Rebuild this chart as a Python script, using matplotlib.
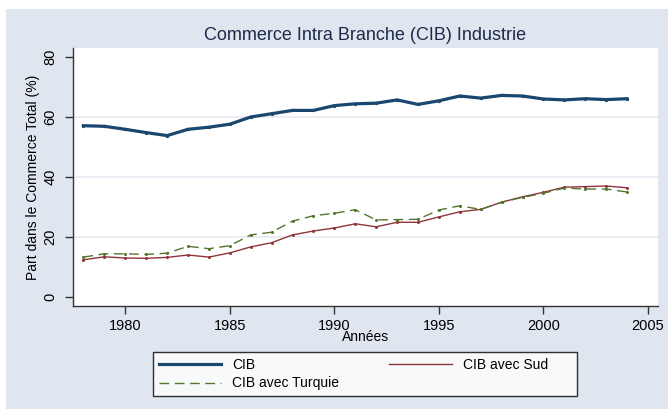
import matplotlib
matplotlib.use("Agg")
import matplotlib.pyplot as plt
from matplotlib.patches import Rectangle

# data
years = list(range(1978, 2005))
cib = [57.1, 56.9, 55.9, 54.8, 53.8, 55.9, 56.6, 57.6, 60.0, 61.1, 62.2, 62.2, 63.8,
       64.4, 64.6, 65.7, 64.2, 65.4, 67.0, 66.3, 67.2, 67.0, 66.0, 65.7, 66.1, 65.8, 66.1]
cib_sud = [12.4, 13.4, 13.0, 12.9, 13.2, 14.0, 13.3, 14.7, 16.7, 18.1, 20.7, 22.0, 23.0,
           24.4, 23.4, 24.9, 24.9, 26.7, 28.4, 29.2, 31.6, 33.4, 34.9, 36.6, 36.8, 37.0, 36.4]
cib_turquie = [13.3, 14.4, 14.4, 14.2, 14.6, 16.9, 16.1, 17.1, 20.7, 21.6, 25.3, 27.1, 27.9,
               29.1, 25.7, 25.8, 25.9, 29.0, 30.4, 29.2, 31.6, 33.2, 34.6, 36.3, 36.0, 36.0, 35.0]

x_ticks = [1980, 1985, 1990, 1995, 2000, 2005]
y_ticks = [0, 20, 40, 60, 80]

navy = "#1a476f"
maroon = "#90353b"
green = "#55752f"
bg = "#e0e6ef"
grid_col = "#e6ebf2"

plt.rcParams["font.family"] = ["Liberation Sans", "DejaVu Sans"]

fig = plt.figure(figsize=(6.68, 4.09), dpi=100)
fig.patch.set_facecolor("white")
# light graph region (white strip on top and left as in the reference)
fig.patches.append(Rectangle((6 / 668, 0), 662 / 668, 1 - 9 / 409,
                             transform=fig.transFigure, facecolor=bg,
                             edgecolor="none", zorder=-10))

ax = fig.add_axes([73 / 668, 1 - 306 / 409, 585 / 668, 258 / 409])
ax.set_facecolor("white")

l1, = ax.plot(years, cib, color=navy, lw=2.3, marker="o", ms=1.4)
l2, = ax.plot(years, cib_sud, color=maroon, lw=1.0, marker="o", ms=1.2)
l3, = ax.plot(years, cib_turquie, color=green, lw=1.0, ls=(0, (7, 4)), marker="o", ms=1.2)

ax.set_xlim(1977.5, 2005.48)
ax.set_ylim(-3, 83)
ax.set_xticks(x_ticks)
ax.set_yticks(y_ticks)
for yv in [20, 40, 60]:
    ax.axhline(yv, color=grid_col, lw=1.2, zorder=0)

for s in ["top", "right"]:
    ax.spines[s].set_visible(False)
for s in ["left", "bottom"]:
    ax.spines[s].set_color("#333333")
    ax.spines[s].set_linewidth(1.0)
ax.tick_params(direction="out", length=6, width=1.0, color="#333333",
               labelsize=10.5, pad=3)
ax.tick_params(axis="y", pad=5)
for lab in ax.get_yticklabels():
    lab.set_rotation(90)
    lab.set_va("center")

ax.set_xlabel("Années", fontsize=10, labelpad=-2)
ax.set_ylabel("Part dans le Commerce Total (%)", fontsize=10, labelpad=3)

fig.text(365 / 668, 1 - 35 / 409, "Commerce Intra Branche (CIB) Industrie",
         ha="center", va="center", fontsize=13, color="#1e2a4a")

# trailing spaces keep the wider right margin of the original legend box
leg = fig.legend([l1, l3, l2], ["CIB", "CIB avec Turquie", "CIB avec Sud      "],
                 ncol=2, loc="center", mode="expand", borderaxespad=0,
                 bbox_to_anchor=(153 / 668, 1 - 396 / 409, 424 / 668, 44 / 409),
                 fontsize=10, frameon=True, fancybox=False, handlelength=4.5,
                 borderpad=0.4, labelspacing=0.35, handletextpad=0.8)
leg.get_frame().set_edgecolor("black")
leg.get_frame().set_linewidth(1.0)
for h in leg.legend_handles:
    h.set_marker("")

fig.savefig("out.png", dpi=100, facecolor=fig.get_facecolor())
